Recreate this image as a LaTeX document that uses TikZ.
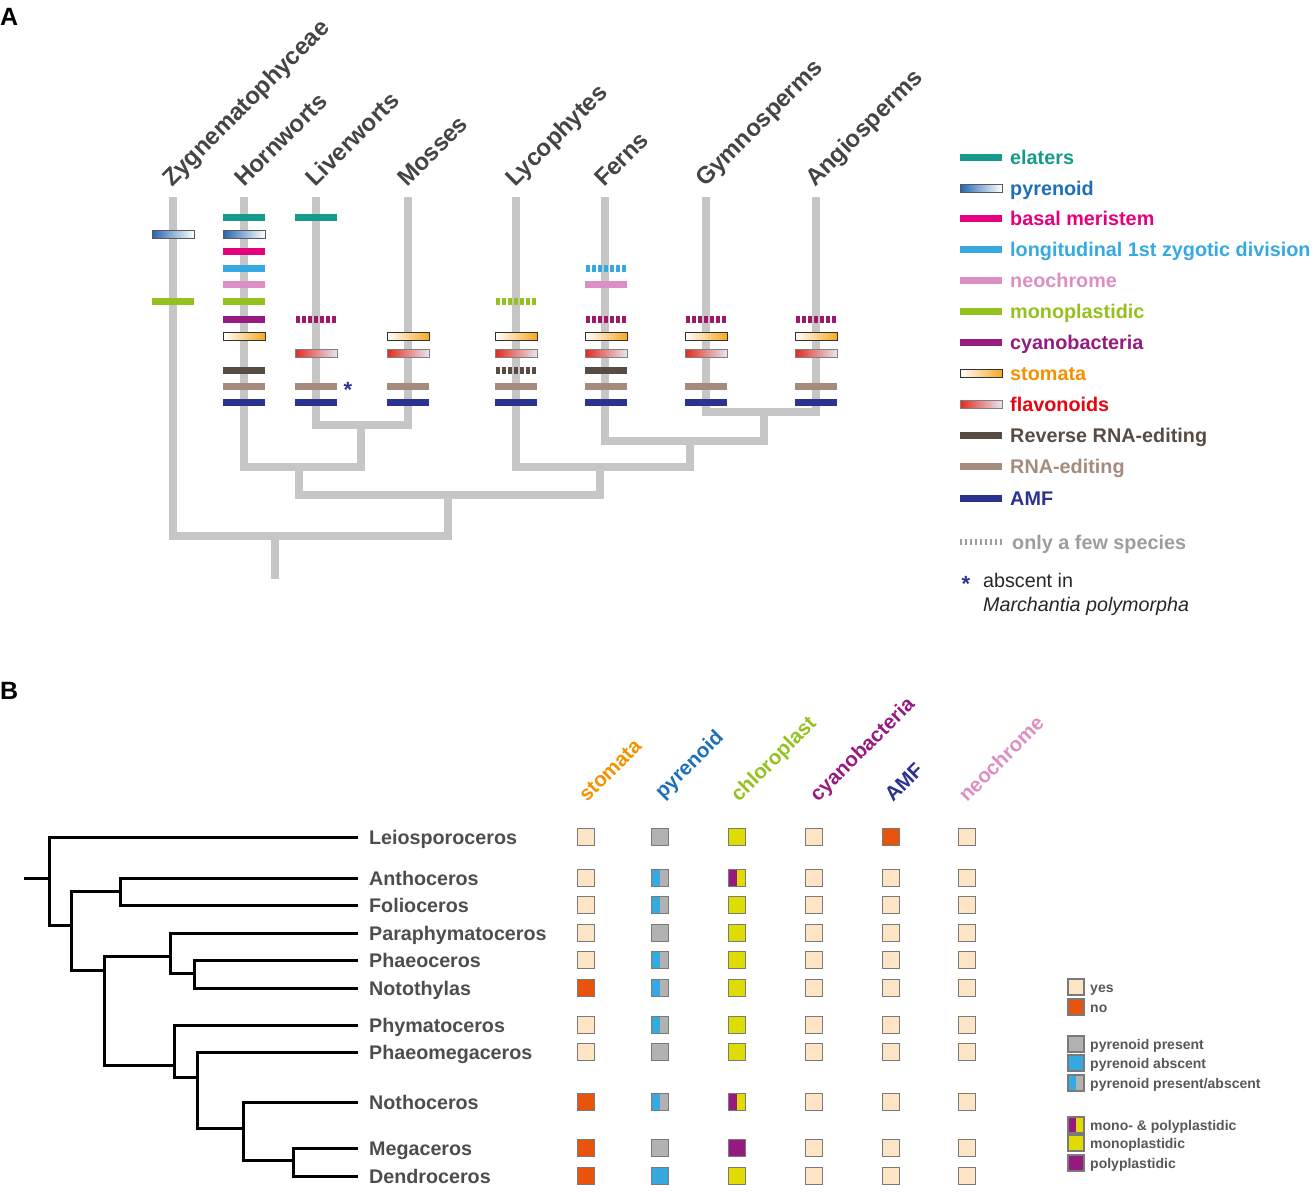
\documentclass[tikz,border=0pt]{standalone}
\usepackage{fontspec}
\setmainfont{Liberation Sans}
\usetikzlibrary{calc}
\definecolor{elat}{HTML}{159A8C}
\definecolor{pyr}{HTML}{1D70B7}
\definecolor{pyrL}{HTML}{2566B0}
\definecolor{basal}{HTML}{E5007D}
\definecolor{longi}{HTML}{36A9E1}
\definecolor{neo}{HTML}{DD8FC3}
\definecolor{mono}{HTML}{95C11F}
\definecolor{cyano}{HTML}{951B81}
\definecolor{cyanod}{HTML}{A0186A}
\definecolor{stom}{HTML}{F39200}
\definecolor{stomR}{HTML}{F7A823}
\definecolor{flav}{HTML}{E30613}
\definecolor{flavL}{HTML}{E42A1D}
\definecolor{flavR}{HTML}{E6E6F2}
\definecolor{rev}{HTML}{574C43}
\definecolor{rna}{HTML}{A58B7C}
\definecolor{amf}{HTML}{2B3391}
\definecolor{branchc}{HTML}{C6C6C6}
\definecolor{titlec}{HTML}{444444}
\definecolor{tipc}{HTML}{4D4D4D}
\definecolor{legc}{HTML}{575757}
\definecolor{fewc}{HTML}{9D9D9D}
\definecolor{yesc}{HTML}{FDE4C4}
\definecolor{noc}{HTML}{E9540D}
\definecolor{presc}{HTML}{B2B2B2}
\definecolor{absc}{HTML}{36A9E1}
\definecolor{monoc}{HTML}{DEDC00}
\definecolor{polyc}{HTML}{951B81}
\definecolor{sqb}{HTML}{7A7A7A}
\newcommand\tbar[4]{\node[#1] (#2) at (#3,#4) {};}
\newcommand\fewbar[3]{\draw[fewdash,#1] (#2-21,#3) -- (#2+21,#3);}
\newcommand\sqrow[8]{%
 \node[sq,#3] (#1-st) at (586,#2) {};
 \node[sq,#4] (#1-py) at (660,#2) {};
 \node[sq,#5] (#1-ch) at (737,#2) {};
 \node[sq,#6] (#1-cy) at (814,#2) {};
 \node[sq,#7] (#1-am) at (891,#2) {};
 \node[sq,#8] (#1-ne) at (967,#2) {};}
\begin{document}
\begin{tikzpicture}[x=1pt,y=-1pt,
  branch/.style={draw=branchc,line width=8pt},
  tree/.style={draw=black,line width=3pt},
  trait/.style={rectangle,inner sep=0pt,outer sep=0pt,minimum width=42pt,minimum height=7pt,draw=none},
  pyrbar/.style={trait,left color=pyrL,right color=white,draw=black!65,line width=0.9pt,minimum height=8pt},
  stombar/.style={trait,left color=white,right color=stomR,draw=black!80,line width=0.9pt,minimum height=8pt},
  flavbar/.style={trait,left color=flavL,right color=flavR,draw=black!50,line width=0.9pt,minimum height=8pt},
  fewdash/.style={line width=7pt,dash pattern=on 3.5pt off 2.5pt,dash phase=-1.2pt},
  title/.style={rotate=45,anchor=base west,inner sep=0pt,text=titlec,font=\fontsize{24}{28}\selectfont\bfseries},
  legtxt/.style={anchor=base west,inner sep=0pt,font=\fontsize{19.8}{24}\selectfont\bfseries},
  tiplab/.style={anchor=base west,inner sep=0pt,text=tipc,font=\fontsize{19.7}{23}\selectfont\bfseries},
  colhead/.style={rotate=45,anchor=base west,inner sep=0pt,font=\fontsize{20.5}{24}\selectfont\bfseries},
  sq/.style={rectangle,inner sep=0pt,outer sep=0pt,minimum size=17pt,draw=sqb,line width=1.2pt},
  lsq/.style={sq,minimum size=16pt},
  btxt/.style={anchor=base west,inner sep=0pt,text=legc,font=\fontsize{14}{16}\selectfont\bfseries},
  sqyes/.style={fill=yesc},
  sqno/.style={fill=noc},
  sqpres/.style={fill=presc},
  sqabs/.style={fill=absc},
  sqmono/.style={fill=monoc},
  sqpoly/.style={fill=polyc},
  sqpa/.style={fill=presc,path picture={\fill[absc] (path picture bounding box.south west) rectangle (path picture bounding box.north);}},
  sqmp/.style={fill=monoc,path picture={\fill[polyc] (path picture bounding box.south west) rectangle (path picture bounding box.north);}},
  panel/.style={anchor=base west,inner sep=0pt,font=\fontsize{25}{28}\selectfont\bfseries}
]
\useasboundingbox (0,0) rectangle (1316,1191);

% ---------------- panel labels
\node[panel] (pA) at (0,25) {A};
\node[panel] (pB) at (0,699) {B};

% ---------------- Part A tree
\coordinate (zyg) at (173,197);
\coordinate (hor) at (244,197);
\coordinate (liv) at (316,197);
\coordinate (mos) at (408,197);
\coordinate (lyc) at (516,197);
\coordinate (fer) at (605,197);
\coordinate (gym) at (706,197);
\coordinate (ang) at (816,197);
\coordinate (LM) at (361,425);
\coordinate (HLM) at (299,467);
\coordinate (GA) at (764,412);
\coordinate (FGA) at (690,441);
\coordinate (LFGA) at (600,467);
\coordinate (BT) at (448,495);
\coordinate (ROOT) at (275,536);
\coordinate (rootEnd) at (275,579);

\draw[branch] (liv) |- (LM) -| (mos);
\draw[branch] (hor) |- (HLM) -| (LM);
\draw[branch] (gym) |- (GA) -| (ang);
\draw[branch] (fer) |- (FGA) -| (GA);
\draw[branch] (lyc) |- (LFGA) -| (FGA);
\draw[branch] (HLM) |- (BT) -| (LFGA);
\draw[branch] (zyg) |- (ROOT) -| (BT);
\draw[branch] (ROOT) -- (rootEnd);

% titles
\node[title] (t-zyg) at (172,188) {Zygnematophyceae};
\node[title] (t-hor) at (244,188) {Hornworts};
\node[title] (t-liv) at (315,188) {Liverworts};
\node[title] (t-mos) at (407,188) {Mosses};
\node[title] (t-lyc) at (515,188) {Lycophytes};
\node[title] (t-fer) at (604,188) {Ferns};
\node[title] (t-gym) at (705,188) {Gymnosperms};
\node[title] (t-ang) at (815,188) {Angiosperms};

% Zygnematophyceae
\tbar{pyrbar}{z-pyr}{173}{234}
\tbar{trait,fill=mono}{z-mono}{173}{301}
% Hornworts
\tbar{trait,fill=elat}{h-elat}{244}{217}
\tbar{pyrbar}{h-pyr}{244}{234}
\tbar{trait,fill=basal}{h-bas}{244}{251}
\tbar{trait,fill=longi}{h-lon}{244}{268}
\tbar{trait,fill=neo}{h-neo}{244}{284}
\tbar{trait,fill=mono}{h-mono}{244}{301}
\tbar{trait,fill=cyano}{h-cya}{244}{319}
\tbar{stombar}{h-sto}{244}{336}
\tbar{trait,fill=rev}{h-rev}{244}{370}
\tbar{trait,fill=rna}{h-rna}{244}{386}
\tbar{trait,fill=amf}{h-amf}{244}{402}
% Liverworts
\tbar{trait,fill=elat}{l-elat}{316}{217}
\fewbar{draw=cyanod}{316}{319}
\tbar{flavbar}{l-fla}{316}{353}
\tbar{trait,fill=rna}{l-rna}{316}{386}
\tbar{trait,fill=amf}{l-amf}{316}{402}
\node[inner sep=0pt,text=amf,font=\fontsize{22}{24}\selectfont\bfseries] (ast) at (348,390) {*};
% Mosses
\tbar{stombar}{m-sto}{408}{336}
\tbar{flavbar}{m-fla}{408}{353}
\tbar{trait,fill=rna}{m-rna}{408}{386}
\tbar{trait,fill=amf}{m-amf}{408}{402}
% Lycophytes
\fewbar{draw=mono}{516}{301}
\tbar{stombar}{y-sto}{516}{336}
\tbar{flavbar}{y-fla}{516}{353}
\fewbar{draw=rev}{516}{370}
\tbar{trait,fill=rna}{y-rna}{516}{386}
\tbar{trait,fill=amf}{y-amf}{516}{402}
% Ferns
\fewbar{draw=longi}{606}{268}
\tbar{trait,fill=neo}{f-neo}{606}{284}
\fewbar{draw=cyanod}{606}{319}
\tbar{stombar}{f-sto}{606}{336}
\tbar{flavbar}{f-fla}{606}{353}
\tbar{trait,fill=rev}{f-rev}{606}{370}
\tbar{trait,fill=rna}{f-rna}{606}{386}
\tbar{trait,fill=amf}{f-amf}{606}{402}
% Gymnosperms
\fewbar{draw=cyanod}{706}{319}
\tbar{stombar}{g-sto}{706}{336}
\tbar{flavbar}{g-fla}{706}{353}
\tbar{trait,fill=rna}{g-rna}{706}{386}
\tbar{trait,fill=amf}{g-amf}{706}{402}
% Angiosperms
\fewbar{draw=cyanod}{816}{319}
\tbar{stombar}{a-sto}{816}{336}
\tbar{flavbar}{a-fla}{816}{353}
\tbar{trait,fill=rna}{a-rna}{816}{386}
\tbar{trait,fill=amf}{a-amf}{816}{402}

% ---------------- Legend A
\tbar{trait,fill=elat}{k-elat}{981}{157}
\tbar{pyrbar}{k-pyr}{981}{188}
\tbar{trait,fill=basal}{k-bas}{981}{218}
\tbar{trait,fill=longi}{k-lon}{981}{249}
\tbar{trait,fill=neo}{k-neo}{981}{280}
\tbar{trait,fill=mono}{k-mono}{981}{311}
\tbar{trait,fill=cyano}{k-cya}{981}{342}
\tbar{stombar}{k-sto}{981}{373}
\tbar{flavbar}{k-fla}{981}{404}
\tbar{trait,fill=rev}{k-rev}{981}{435}
\tbar{trait,fill=rna}{k-rna}{981}{466}
\tbar{trait,fill=amf}{k-amf}{981}{498}
\draw[draw=fewc,line width=6pt,dash pattern=on 2pt off 3pt] (960,542) -- (1002,542);

\node[legtxt,text=elat] (kt-elat) at (1010,164) {elaters};
\node[legtxt,text=pyr] (kt-pyr) at (1010,195) {pyrenoid};
\node[legtxt,text=basal] (kt-bas) at (1010,225) {basal meristem};
\node[legtxt,text=longi] (kt-lon) at (1010,256) {longitudinal 1st zygotic division};
\node[legtxt,text=neo] (kt-neo) at (1010,287) {neochrome};
\node[legtxt,text=mono] (kt-mono) at (1010,318) {monoplastidic};
\node[legtxt,text=cyano] (kt-cya) at (1010,349) {cyanobacteria};
\node[legtxt,text=stom] (kt-sto) at (1010,380) {stomata};
\node[legtxt,text=flav] (kt-fla) at (1010,411) {flavonoids};
\node[legtxt,text=rev] (kt-rev) at (1010,442) {Reverse RNA-editing};
\node[legtxt,text=rna] (kt-rna) at (1010,473) {RNA-editing};
\node[legtxt,text=amf] (kt-amf) at (1010,505) {AMF};
\node[legtxt,text=fewc] (kt-few) at (1012,549) {only a few species};
\node[inner sep=0pt,text=amf,font=\fontsize{22}{24}\selectfont\bfseries] (kast) at (966,584) {*};
\node[anchor=base west,inner sep=0pt,text=black!85,font=\fontsize{19.7}{23}\selectfont] (kabs) at (983,587) {abscent in};
\node[anchor=base west,inner sep=0pt,text=black!85,font=\fontsize{19.7}{23}\selectfont\itshape] (kmar) at (983,611) {Marchantia polymorpha};

% ---------------- Part B tree
\coordinate (stub) at (24,878);
\coordinate (root) at (49,878);
\coordinate (n2) at (71,925);
\coordinate (nAF) at (120,891);
\coordinate (n3) at (104,970);
\coordinate (nP) at (170,956);
\coordinate (nPN) at (194,973);
\coordinate (nL) at (174,1065);
\coordinate (nPM) at (197,1077);
\coordinate (nN) at (243,1128);
\coordinate (nMD) at (293,1160);
\coordinate (tLeio) at (358,837);
\coordinate (tAnth) at (358,878);
\coordinate (tFoli) at (358,905);
\coordinate (tPara) at (358,933);
\coordinate (tPhae) at (358,960);
\coordinate (tNoto) at (358,988);
\coordinate (tPhym) at (358,1025);
\coordinate (tPhme) at (358,1052);
\coordinate (tNoth) at (358,1102);
\coordinate (tMega) at (358,1148);
\coordinate (tDend) at (358,1176);

\draw[tree] (stub) -- (root);
\draw[tree] (root) |- (tLeio);
\draw[tree] (root) |- (n2);
\draw[tree] (n2) |- (nAF);
\draw[tree] (n2) |- (n3);
\draw[tree] (nAF) |- (tAnth);
\draw[tree] (nAF) |- (tFoli);
\draw[tree] (n3) |- (nP);
\draw[tree] (n3) |- (nL);
\draw[tree] (nP) |- (tPara);
\draw[tree] (nP) |- (nPN);
\draw[tree] (nPN) |- (tPhae);
\draw[tree] (nPN) |- (tNoto);
\draw[tree] (nL) |- (tPhym);
\draw[tree] (nL) |- (nPM);
\draw[tree] (nPM) |- (tPhme);
\draw[tree] (nPM) |- (nN);
\draw[tree] (nN) |- (tNoth);
\draw[tree] (nN) |- (nMD);
\draw[tree] (nMD) |- (tMega);
\draw[tree] (nMD) |- (tDend);

\node[tiplab] (lLeio) at (369,844) {Leiosporoceros};
\node[tiplab] (lAnth) at (369,885) {Anthoceros};
\node[tiplab] (lFoli) at (369,912) {Folioceros};
\node[tiplab] (lPara) at (369,940) {Paraphymatoceros};
\node[tiplab] (lPhae) at (369,967) {Phaeoceros};
\node[tiplab] (lNoto) at (369,995) {Notothylas};
\node[tiplab] (lPhym) at (369,1032) {Phymatoceros};
\node[tiplab] (lPhme) at (369,1059) {Phaeomegaceros};
\node[tiplab] (lNoth) at (369,1109) {Nothoceros};
\node[tiplab] (lMega) at (369,1155) {Megaceros};
\node[tiplab] (lDend) at (369,1183) {Dendroceros};

% column headers
\node[colhead,text=stom] (hst) at (587,803) {stomata};
\node[colhead,text=pyr] (hpy) at (663,800) {pyrenoid};
\node[colhead,text=mono] (hch) at (739,803) {chloroplast};
\node[colhead,text=cyano] (hcy) at (818,803) {cyanobacteria};
\node[colhead,text=amf] (ham) at (893,803) {AMF};
\node[colhead,text=neo] (hne) at (967,803) {neochrome};

% squares
\sqrow{leio}{837}{sqyes}{sqpres}{sqmono}{sqyes}{sqno}{sqyes}
\sqrow{anth}{878}{sqyes}{sqpa}{sqmp}{sqyes}{sqyes}{sqyes}
\sqrow{foli}{905}{sqyes}{sqpa}{sqmono}{sqyes}{sqyes}{sqyes}
\sqrow{para}{933}{sqyes}{sqpres}{sqmono}{sqyes}{sqyes}{sqyes}
\sqrow{phae}{960}{sqyes}{sqpa}{sqmono}{sqyes}{sqyes}{sqyes}
\sqrow{noto}{988}{sqno}{sqpa}{sqmono}{sqyes}{sqyes}{sqyes}
\sqrow{phym}{1025}{sqyes}{sqpa}{sqmono}{sqyes}{sqyes}{sqyes}
\sqrow{phme}{1052}{sqyes}{sqpres}{sqmono}{sqyes}{sqyes}{sqyes}
\sqrow{noth}{1102}{sqno}{sqpa}{sqmp}{sqyes}{sqyes}{sqyes}
\sqrow{mega}{1148}{sqno}{sqpres}{sqpoly}{sqyes}{sqyes}{sqyes}
\sqrow{dend}{1176}{sqno}{sqabs}{sqmono}{sqyes}{sqyes}{sqyes}

% legend B
\node[lsq,sqyes] (bk1) at (1076,987) {};
\node[lsq,sqno] (bk2) at (1076,1007) {};
\node[lsq,sqpres] (bk3) at (1076,1044) {};
\node[lsq,sqabs] (bk4) at (1076,1063) {};
\node[lsq,sqpa] (bk5) at (1076,1083) {};
\node[lsq,sqmp] (bk6) at (1076,1125) {};
\node[lsq,sqmono] (bk7) at (1076,1143) {};
\node[lsq,sqpoly] (bk8) at (1076,1163) {};
\node[btxt] (bt1) at (1090,992) {yes};
\node[btxt] (bt2) at (1090,1012) {no};
\node[btxt] (bt3) at (1090,1049) {pyrenoid present};
\node[btxt] (bt4) at (1090,1068) {pyrenoid abscent};
\node[btxt] (bt5) at (1090,1088) {pyrenoid present/abscent};
\node[btxt] (bt6) at (1090,1130) {mono- \& polyplastidic};
\node[btxt] (bt7) at (1090,1148) {monoplastidic};
\node[btxt] (bt8) at (1090,1168) {polyplastidic};
\end{tikzpicture}
\end{document}
